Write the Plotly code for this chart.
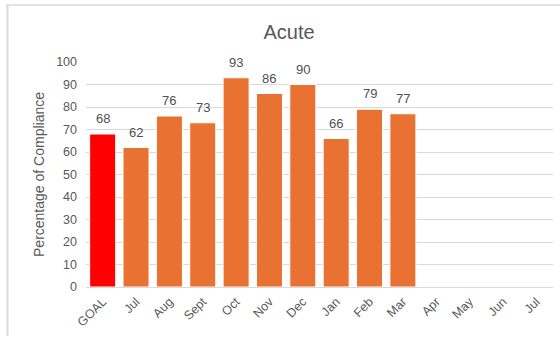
import plotly.graph_objects as go

categories = ["GOAL", "Jul", "Aug", "Sept", "Oct", "Nov", "Dec", "Jan", "Feb", "Mar", "Apr", "May", "Jun", "Jul"]
values = [68, 62, 76, 73, 93, 86, 90, 66, 79, 77, None, None, None, None]
bar_colors = ["#FF0000"] + ["#E97132"] * 13
y_ticks = [0, 10, 20, 30, 40, 50, 60, 70, 80, 90, 100]

W, H = 560, 339
L, R, T, B = 86, 7, 62, 52
pw, ph = W - L - R, H - T - B

x = list(range(len(categories)))

fig = go.Figure(go.Bar(
    x=x, y=values,
    marker=dict(color=bar_colors, line=dict(color="white", width=1)),
    width=0.78,
))

annotations = []
for xi, v in zip(x, values):
    if v is None:
        continue
    annotations.append(dict(
        x=xi, y=v, xref="x", yref="y", text=str(v), showarrow=False,
        yanchor="bottom", yshift=6,
        font=dict(family="Liberation Sans, Arial", size=13, color="#505050"),
    ))

def px_x(p):
    return (p - L) / pw

def px_y(p):
    return (H - B - p) / ph

fig.update_layout(
    width=W, height=H,
    margin=dict(l=L, r=R, t=T, b=B),
    paper_bgcolor="white", plot_bgcolor="white",
    showlegend=False,
    font=dict(family="Liberation Sans, Arial", color="#595959", size=12),
    title=dict(text="Acute", x=289 / W, xanchor="center", y=1 - 32 / H, yanchor="middle",
               font=dict(size=20, color="#595959", family="Liberation Sans, Arial")),
    xaxis=dict(
        tickmode="array", tickvals=x, ticktext=categories, tickangle=-45,
        range=[-0.5, len(categories) - 0.5], showgrid=False, zeroline=False,
        showline=False, ticks="", tickfont=dict(size=12.5, color="#595959"),
        ticklabelstandoff=4,
    ),
    yaxis=dict(
        range=[0, 100], tickvals=y_ticks, showgrid=True, gridcolor="#D9D9D9", gridwidth=1,
        zeroline=True, zerolinecolor="#D9D9D9", zerolinewidth=1, showline=False, ticks="",
        tickfont=dict(size=12.5, color="#595959"), ticklabelstandoff=8,
        title=dict(text="Percentage of Compliance", font=dict(size=14, color="#595959"), standoff=8),
    ),
    annotations=annotations,
    shapes=[
        dict(type="line", xref="paper", yref="paper", x0=px_x(6), x1=px_x(560), y0=px_y(5), y1=px_y(5),
             line=dict(color="#D9D9D9", width=1.5)),
        dict(type="line", xref="paper", yref="paper", x0=px_x(7.5), x1=px_x(7.5), y0=px_y(5), y1=px_y(336),
             line=dict(color="#D9D9D9", width=2)),
    ],
)

fig.write_html("out.html")
